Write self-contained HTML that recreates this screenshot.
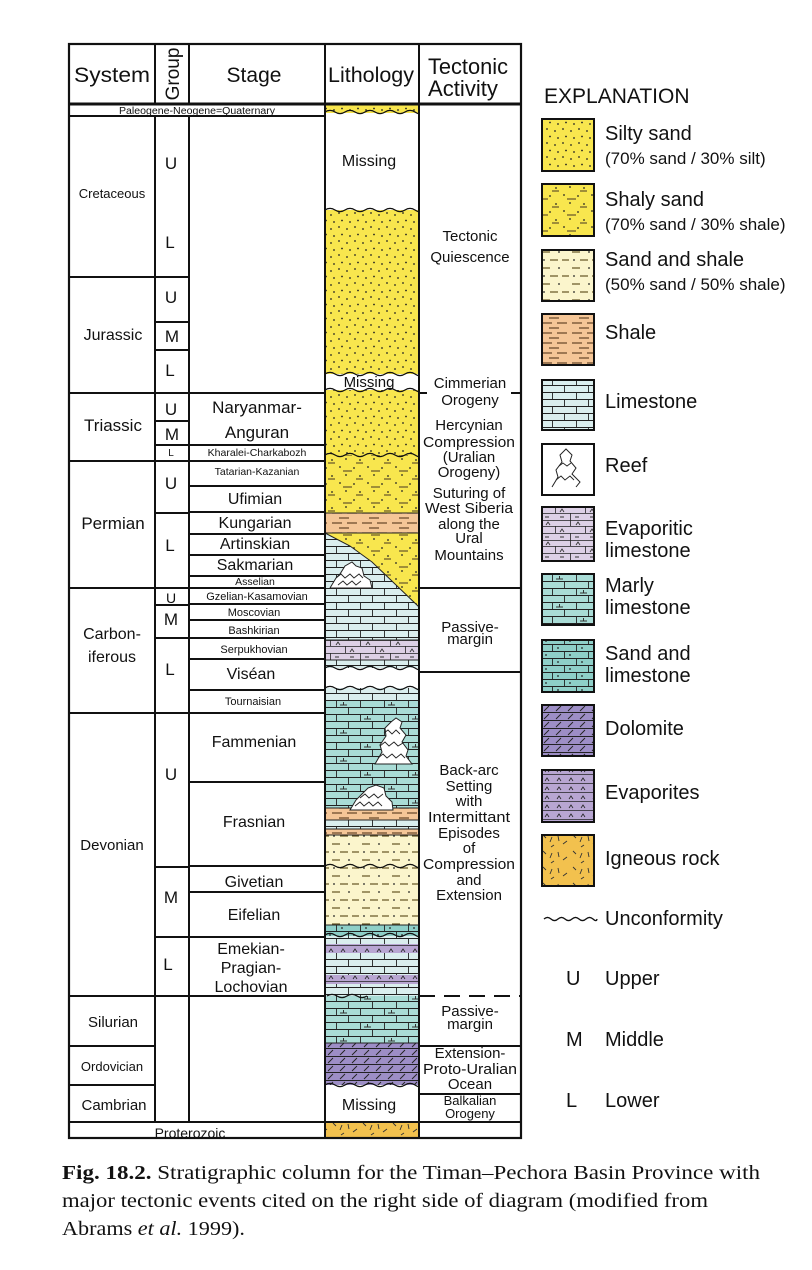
<!DOCTYPE html>
<html><head><meta charset="utf-8">
<style>
html,body{margin:0;padding:0;background:#fff;}
svg{display:block;}
text{font-family:"Liberation Sans",sans-serif;fill:#111;}
.cap{font-family:"Liberation Serif",serif;font-size:20px;}
</style></head>
<body>
<svg id="fig" width="812" height="1270" viewBox="0 0 812 1270" xmlns="http://www.w3.org/2000/svg">
<defs>
 <pattern id="p-silty" width="16" height="14" patternUnits="userSpaceOnUse">
  <rect width="16" height="14" fill="#f8e64e"/>
  <circle cx="3" cy="3" r="0.9" fill="#222"/><circle cx="11" cy="5" r="0.9" fill="#222"/><circle cx="6" cy="10.5" r="0.9" fill="#222"/><circle cx="14" cy="12" r="0.9" fill="#222"/>
 </pattern>
 <pattern id="p-shaly" width="28" height="16" patternUnits="userSpaceOnUse">
  <rect width="28" height="16" fill="#f8e64e"/>
  <circle cx="4" cy="3" r="0.9" fill="#222"/><circle cx="18" cy="4" r="0.9" fill="#222"/><circle cx="10" cy="11" r="0.9" fill="#222"/><circle cx="24" cy="12" r="0.9" fill="#222"/>
  <path d="M7 7h9M20 15h7" stroke="#6a5a2a" stroke-width="1.2"/>
 </pattern>
 <pattern id="p-sandshale" width="30" height="16" patternUnits="userSpaceOnUse">
  <rect width="30" height="16" fill="#fbf5cc"/>
  <circle cx="4" cy="4" r="0.9" fill="#222"/><circle cx="19" cy="12" r="0.9" fill="#222"/>
  <path d="M10 4h8M2 12h8M22 4h7" stroke="#6a5a2a" stroke-width="1.2"/>
 </pattern>
 <pattern id="p-shale" width="30" height="10" patternUnits="userSpaceOnUse">
  <rect width="30" height="10" fill="#f5c697"/>
  <path d="M2 3h10M17 3h10M9 8h10" stroke="#6a4a2a" stroke-width="1.3"/>
 </pattern>
 <pattern id="p-lime" width="24" height="14" patternUnits="userSpaceOnUse">
  <rect width="24" height="14" fill="#daeeee"/>
  <path d="M0 0.5h24M0 7.5h24M0.5 0v7M12.5 7v7" stroke="#222" stroke-width="0.9"/>
 </pattern>
 <pattern id="p-marly" width="48" height="28" patternUnits="userSpaceOnUse">
  <rect width="48" height="28" fill="#a9dcd6"/>
  <path d="M0 0.5h48M0 7.5h48M0 14.5h48M0 21.5h48M0.5 0v7M24.5 0v7M12.5 7v7M36.5 7v7M0.5 14v7M24.5 14v7M12.5 21v7M36.5 21v7" stroke="#222" stroke-width="0.9"/>
  <path d="M4 5h7M7.5 2v3M28 19h7M31.5 16v3" stroke="#333" stroke-width="1"/>
 </pattern>
 <pattern id="p-sandlime" width="24" height="14" patternUnits="userSpaceOnUse">
  <rect width="24" height="14" fill="#8ecfc8"/>
  <path d="M0 0.5h24M0 7.5h24M0.5 0v7M12.5 7v7" stroke="#222" stroke-width="0.9"/>
  <circle cx="6" cy="4" r="0.9" fill="#222"/><circle cx="18" cy="11" r="0.9" fill="#222"/>
 </pattern>
 <pattern id="p-evlime" width="30" height="20" patternUnits="userSpaceOnUse">
  <rect width="30" height="20" fill="#ddd0e6"/>
  <path d="M0 0.5h30M0 6.5h30M0 13.5h30M0.5 0v6M15.5 6v7M0.5 13v7" stroke="#222" stroke-width="0.8"/>
  <path d="M6 5l2-3 2 3M20 12l2-3 2 3" stroke="#333" fill="none" stroke-width="0.9"/>
  <path d="M5 17h4M20 17h4" stroke="#333" stroke-width="1"/>
 </pattern>
 <pattern id="p-dolo" width="24" height="8" patternUnits="userSpaceOnUse">
  <rect width="24" height="8" fill="#9d8ec6"/>
  <path d="M0 0.5h24M4 7l5-5M16 7l5-5" stroke="#222" stroke-width="0.9"/>
 </pattern>
 <pattern id="p-evap" width="24" height="9" patternUnits="userSpaceOnUse">
  <rect width="24" height="9" fill="#b8a6d2"/>
  <path d="M0 0.5h24M5 7l2-3 2 3M17 7l2-3 2 3" stroke="#222" fill="none" stroke-width="0.8"/>
 </pattern>
 <pattern id="p-igneous" width="30" height="16" patternUnits="userSpaceOnUse">
  <rect width="30" height="16" fill="#f2c14e"/>
  <path d="M3 3l3 3M10 10l2-5M18 4l1 5M23 12l4-3M14 13l-3 2" stroke="#333" stroke-width="0.9"/>
 </pattern>
</defs>

<!-- Lithology column -->
<g id="litho">
 <rect x="325" y="104" width="94" height="9" fill="url(#p-silty)"/>
 <rect x="325" y="210" width="94" height="164" fill="url(#p-silty)"/>
 <rect x="325" y="390" width="94" height="65" fill="url(#p-silty)"/>
 <rect x="325" y="455" width="94" height="58" fill="url(#p-shaly)"/>
 <rect x="325" y="513" width="94" height="20" fill="url(#p-shale)"/>
 <rect x="325" y="533" width="94" height="74" fill="url(#p-shaly)"/>
 <polygon points="325,533 350,546 372,562 395,584 419,607 419,640 325,640" fill="url(#p-lime)" stroke="#222" stroke-width="1"/>
 <rect x="325" y="640" width="94" height="20" fill="url(#p-evlime)"/>
 <rect x="325" y="660" width="94" height="10" fill="url(#p-lime)"/>
 <rect x="325" y="688" width="94" height="20" fill="url(#p-lime)"/>
 <rect x="325" y="700" width="94" height="108" fill="url(#p-marly)"/>
 <rect x="325" y="808" width="94" height="12" fill="url(#p-shale)"/>
 <rect x="325" y="820" width="94" height="9" fill="url(#p-lime)"/>
 <rect x="325" y="829" width="94" height="6" fill="url(#p-shale)"/>
 <rect x="325" y="835" width="94" height="90" fill="url(#p-sandshale)"/>
 <rect x="325" y="925" width="94" height="11" fill="url(#p-sandlime)"/>
 <rect x="325" y="936" width="94" height="60" fill="url(#p-lime)"/>
 <rect x="325" y="944" width="94" height="9" fill="url(#p-evap)"/>
 <rect x="325" y="975" width="94" height="9" fill="url(#p-evap)"/>
 <rect x="325" y="996" width="94" height="47" fill="url(#p-marly)"/>
 <rect x="325" y="1043" width="94" height="42" fill="url(#p-dolo)"/>
 <rect x="325" y="1122" width="94" height="16" fill="url(#p-igneous)"/>
 <g stroke="#222" stroke-width="1">
  <path d="M325 513h94M325 533h94M325 640h94M325 660h94M325 808h94M325 820h94M325 829h94M325 835h94M325 925h94M325 1043h94"/>
 </g>
 <path d="M330 588 L336 578 L340 574 L345 566 L352 562 L356 566 L362 568 L364 576 L370 580 L372 588 Z" fill="#fff" stroke="#222" stroke-width="1"/>
 <path d="M336 578l5-4 4 4 5-4 4 4 5-4 4 4M338 585l5-4 4 4 5-4 4 4 5-4" fill="none" stroke="#222" stroke-width="0.9"/>
 <path d="M375 764 L382 752 L380 745 L386 736 L385 728 L391 722 L396 718 L402 722 L400 728 L406 735 L402 742 L408 750 L406 756 L412 764 Z" fill="#fff" stroke="#222" stroke-width="1"/>
 <path d="M384 733l4-3 4 4 4-4 4 4M380 746l5-4 4 4 5-4 4 4 5-3M378 758l5-4 4 4 5-4 4 4 5-4 4 4" fill="none" stroke="#222" stroke-width="0.9"/>
 <path d="M350 810 L356 800 L362 794 L368 788 L376 785 L384 788 L386 796 L392 802 L393 810 Z" fill="#fff" stroke="#222" stroke-width="1"/>
 <path d="M360 798l5-4 4 4 5-4 4 4 5-4M355 806l5-4 4 4 5-4 4 4 5-4 4 4" fill="none" stroke="#222" stroke-width="0.9"/>
 <text x="369" y="166" font-size="16" text-anchor="middle">Missing</text>
 <text x="369" y="387" font-size="15" text-anchor="middle">Missing</text>
 <text x="369" y="1110" font-size="16" text-anchor="middle">Missing</text>
</g>
<g id="waves"></g>

<!-- Grid -->
<g stroke="#111" stroke-width="2" fill="none">
 <rect x="69" y="44" width="452" height="1094" stroke-width="2.2"/>
 <path d="M69 104h452" stroke-width="3"/>
 <path d="M155 44v60M189 44v60M325 44v1094M419 44v1094"/>
 <path d="M155 116v1006M189 116v1006"/>
 <path d="M69 116h256"/>
 <path d="M69 393h256M69 461h256M69 588h256M69 713h256M69 996h256M69 1122h452"/>
 <path d="M69 277h120M69 1046h86M69 1085h86"/>
 <path d="M155 322h34M155 350h34M155 421h34M155 445h34M155 513h34M155 605h34M155 638h34M155 867h34M155 937h34"/>
 <path d="M189 445h136M189 486h136M189 512h136M189 534h136M189 555h136M189 576h136M189 604h136M189 620h136M189 638h136M189 659h136M189 690h136M189 782h136M189 866h136M189 892h136M189 937h136"/>
 <path d="M419 393h8M511 393h10M419 588h102M419 672h102M419 1046h102M419 1094h102"/>
 <path d="M419 996h102" stroke-dasharray="16,9"/>
</g>

<!-- Header -->
<g>
 <text x="112" y="82" font-size="21" text-anchor="middle" textLength="76" lengthAdjust="spacingAndGlyphs">System</text>
 <text transform="translate(179,74) rotate(-90)" font-size="19" text-anchor="middle">Group</text>
 <text x="254" y="82" font-size="21" text-anchor="middle">Stage</text>
 <text x="371" y="82" font-size="21" text-anchor="middle" textLength="86" lengthAdjust="spacingAndGlyphs">Lithology</text>
 <text x="428" y="74" font-size="22" textLength="80" lengthAdjust="spacingAndGlyphs">Tectonic</text>
 <text x="428" y="96" font-size="22" textLength="70" lengthAdjust="spacingAndGlyphs">Activity</text>
 <text x="197" y="114" font-size="10" text-anchor="middle" textLength="156" lengthAdjust="spacingAndGlyphs">Paleogene-Neogene=Quaternary</text>
</g>

<!-- Systems -->
<g font-size="15" text-anchor="middle">
 <text x="112" y="198" font-size="13">Cretaceous</text>
 <text x="113" y="340" font-size="16">Jurassic</text>
 <text x="113" y="431" font-size="17">Triassic</text>
 <text x="113" y="529" font-size="17">Permian</text>
 <text x="112" y="639" font-size="16">Carbon-</text>
 <text x="112" y="662" font-size="16">iferous</text>
 <text x="112" y="850" font-size="15">Devonian</text>
 <text x="113" y="1027" font-size="15">Silurian</text>
 <text x="112" y="1071" font-size="13">Ordovician</text>
 <text x="114" y="1110" font-size="15">Cambrian</text>
 <text x="190" y="1138" font-size="14">Proterozoic</text>
</g>

<!-- Groups -->
<g font-size="17" text-anchor="middle">
 <text x="171" y="169">U</text><text x="170" y="248">L</text>
 <text x="171" y="303">U</text><text x="172" y="342">M</text><text x="170" y="376">L</text>
 <text x="171" y="415">U</text><text x="172" y="440">M</text><text x="171" y="456" font-size="10">L</text>
 <text x="171" y="489">U</text><text x="170" y="551">L</text>
 <text x="171" y="603" font-size="14">U</text><text x="171" y="625">M</text><text x="170" y="675">L</text>
 <text x="171" y="780">U</text><text x="171" y="903">M</text><text x="168" y="970">L</text>
</g>

<!-- Stages -->
<g text-anchor="middle">
 <text x="257" y="413" font-size="17">Naryanmar-</text>
 <text x="257" y="438" font-size="17">Anguran</text>
 <text x="257" y="456" font-size="10.5">Kharalei-Charkabozh</text>
 <text x="257" y="475" font-size="10.5">Tatarian-Kazanian</text>
 <text x="255" y="504" font-size="16">Ufimian</text>
 <text x="255" y="528" font-size="16">Kungarian</text>
 <text x="255" y="549" font-size="16">Artinskian</text>
 <text x="255" y="570" font-size="16">Sakmarian</text>
 <text x="255" y="585" font-size="10.5">Asselian</text>
 <text x="257" y="600" font-size="11">Gzelian-Kasamovian</text>
 <text x="254" y="616" font-size="11">Moscovian</text>
 <text x="254" y="634" font-size="11">Bashkirian</text>
 <text x="254" y="653" font-size="11">Serpukhovian</text>
 <text x="251" y="679" font-size="16">Viséan</text>
 <text x="253" y="705" font-size="11">Tournaisian</text>
 <text x="254" y="747" font-size="16">Fammenian</text>
 <text x="254" y="827" font-size="16">Frasnian</text>
 <text x="254" y="887" font-size="16">Givetian</text>
 <text x="254" y="920" font-size="16">Eifelian</text>
 <text x="251" y="954" font-size="16">Emekian-</text>
 <text x="251" y="973" font-size="16">Pragian-</text>
 <text x="251" y="992" font-size="16">Lochovian</text>
</g>

<!-- Tectonic -->
<g text-anchor="middle" font-size="15">
 <text x="470" y="241">Tectonic</text><text x="470" y="262">Quiescence</text>
 <text x="470" y="388">Cimmerian</text><text x="470" y="405">Orogeny</text>
 <text x="469" y="430">Hercynian</text><text x="469" y="447" textLength="92" lengthAdjust="spacingAndGlyphs">Compression</text><text x="469" y="462">(Uralian</text><text x="469" y="477">Orogeny)</text>
 <text x="469" y="498">Suturing of</text><text x="469" y="513" textLength="88" lengthAdjust="spacingAndGlyphs">West Siberia</text><text x="469" y="529">along the</text><text x="469" y="543">Ural</text><text x="469" y="560">Mountains</text>
 <text x="470" y="632">Passive-</text><text x="470" y="644">margin</text>
 <text x="469" y="775">Back-arc</text><text x="469" y="791">Setting</text><text x="469" y="806">with</text><text x="469" y="822" textLength="82" lengthAdjust="spacingAndGlyphs">Intermittant</text><text x="469" y="838">Episodes</text><text x="469" y="853">of</text><text x="469" y="869" textLength="92" lengthAdjust="spacingAndGlyphs">Compression</text><text x="469" y="885">and</text><text x="469" y="900">Extension</text>
 <text x="470" y="1016">Passive-</text><text x="470" y="1029">margin</text>
 <text x="470" y="1058">Extension-</text><text x="470" y="1074" textLength="94" lengthAdjust="spacingAndGlyphs">Proto-Uralian</text><text x="470" y="1089">Ocean</text>
 <text x="470" y="1105" font-size="13">Balkalian</text><text x="470" y="1118" font-size="13">Orogeny</text>
</g>

<!-- Explanation -->
<g>
 <text x="544" y="103" font-size="21">EXPLANATION</text>
 <g stroke="#111" stroke-width="2">
  <rect x="542" y="119" width="52" height="52" fill="url(#p-silty)"/>
  <rect x="542" y="184" width="52" height="52" fill="url(#p-shaly)"/>
  <rect x="542" y="250" width="52" height="51" fill="url(#p-sandshale)"/>
  <rect x="542" y="314" width="52" height="51" fill="url(#p-shale)"/>
  <rect x="542" y="380" width="52" height="50" fill="url(#p-lime)"/>
  <rect x="542" y="444" width="52" height="51" fill="#fff"/>
  <rect x="542" y="507" width="52" height="54" fill="url(#p-evlime)"/>
  <rect x="542" y="574" width="52" height="51" fill="url(#p-marly)"/>
  <rect x="542" y="640" width="52" height="52" fill="url(#p-sandlime)"/>
  <rect x="542" y="705" width="52" height="51" fill="url(#p-dolo)"/>
  <rect x="542" y="770" width="52" height="52" fill="url(#p-evap)"/>
  <rect x="542" y="835" width="52" height="51" fill="url(#p-igneous)"/>
 </g>
 <path d="M552 487 L558 477 L556 470 L562 462 L560 455 L566 449 L572 455 L570 461 L576 468 L572 474 L580 482 L576 487" fill="none" stroke="#222" stroke-width="1"/>
 <path d="M559 466l4-3 4 3 4-3M556 480l5-4 4 4 5-4 4 4" fill="none" stroke="#222" stroke-width="0.9"/>
 <g font-size="20">
  <text x="605" y="140">Silty sand</text><text x="605" y="164" font-size="17">(70% sand / 30% silt)</text>
  <text x="605" y="206">Shaly sand</text><text x="605" y="230" font-size="17">(70% sand / 30% shale)</text>
  <text x="605" y="266">Sand and shale</text><text x="605" y="290" font-size="17">(50% sand / 50% shale)</text>
  <text x="605" y="339">Shale</text>
  <text x="605" y="408">Limestone</text>
  <text x="605" y="472">Reef</text>
  <text x="605" y="535">Evaporitic</text><text x="605" y="557">limestone</text>
  <text x="605" y="592">Marly</text><text x="605" y="614">limestone</text>
  <text x="605" y="660">Sand and</text><text x="605" y="682">limestone</text>
  <text x="605" y="735">Dolomite</text>
  <text x="605" y="799">Evaporites</text>
  <text x="605" y="865">Igneous rock</text>
  <text x="605" y="925">Unconformity</text>
  <text x="566" y="985">U</text><text x="605" y="985">Upper</text>
  <text x="566" y="1046">M</text><text x="605" y="1046">Middle</text>
  <text x="566" y="1107">L</text><text x="605" y="1107">Lower</text>
 </g>
</g>

<!-- Caption -->
<g>
 <text class="cap" x="62" y="1179" textLength="698" lengthAdjust="spacingAndGlyphs"><tspan font-weight="bold">Fig. 18.2.</tspan> Stratigraphic column for the Timan–Pechora Basin Province with</text>
 <text class="cap" x="62" y="1207" textLength="646" lengthAdjust="spacingAndGlyphs">major tectonic events cited on the right side of diagram (modified from</text>
 <text class="cap" x="62" y="1235" textLength="183" lengthAdjust="spacingAndGlyphs">Abrams <tspan font-style="italic">et al.</tspan> 1999).</text>
</g>
</svg>
<script>
const NS = "http://www.w3.org/2000/svg";
const waveYs = [112, 210, 374, 390, 455, 668, 688, 866, 935, 1085];
const gWaves = document.getElementById("waves");
function wave(x0, x1, y, amp, per) {
  let d = "M" + x0 + " " + y;
  for (let x = x0; x < x1; x += per) {
    const xe = Math.min(x + per, x1);
    d += " Q" + (x + per / 2) + " " + (y - amp * 2) + " " + xe + " " + y;
    amp = -amp;
  }
  return d;
}
const gaps = [[113, 210], [374, 390], [668, 688], [1085, 1122]];
gaps.forEach(function (g) {
  const r = document.createElementNS(NS, "rect");
  r.setAttribute("x", 326); r.setAttribute("y", g[0]);
  r.setAttribute("width", 92); r.setAttribute("height", g[1] - g[0]);
  r.setAttribute("fill", "#fff");
  
  
  document.getElementById("litho").insertBefore(r, document.getElementById("litho").querySelector("text"));
});
waveYs.forEach(function (y) {
  const p = document.createElementNS(NS, "path");
  p.setAttribute("d", wave(325, 419, y, 1.6, 10));
  p.setAttribute("fill", "none");
  p.setAttribute("stroke", "#111");
  p.setAttribute("stroke-width", "1.3");
  
  
  gWaves.appendChild(p);
});
const p2 = document.createElementNS(NS, "path");
p2.setAttribute("d", wave(327, 367, 996, 1.6, 10));
p2.setAttribute("fill", "none"); p2.setAttribute("stroke", "#111"); p2.setAttribute("stroke-width", "1.3");


gWaves.appendChild(p2);
const lw = document.createElementNS(NS, "path");
lw.setAttribute("d", wave(544, 597, 919, 1.6, 7));
lw.setAttribute("fill", "none"); lw.setAttribute("stroke", "#111"); lw.setAttribute("stroke-width", "1.3");


gWaves.appendChild(lw);
</script>
</body></html>
